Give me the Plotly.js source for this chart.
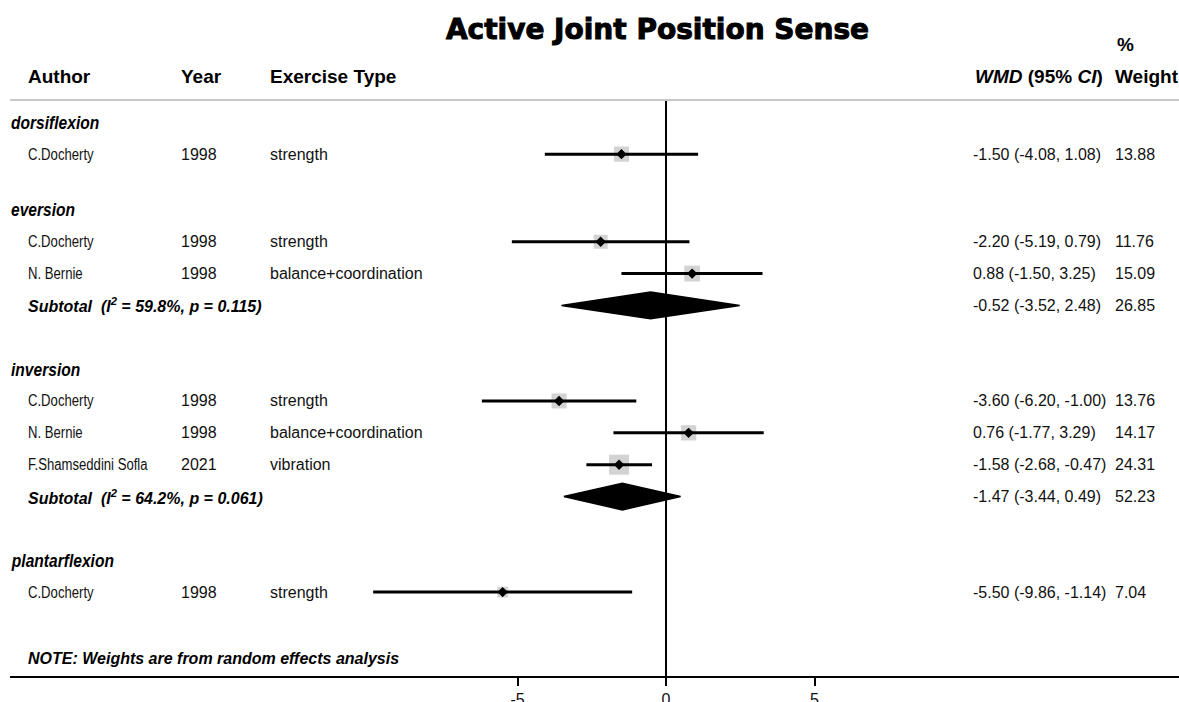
<!DOCTYPE html>
<html><head><meta charset="utf-8">
<script src="https://cdn.plot.ly/plotly-3.0.1.min.js"></script>
<style>html,body{margin:0;padding:0;background:#fff}#chart{width:1179px;height:702px}</style>
</head><body><div id="chart"></div>
<script>
// ---------------- data ----------------
const groupNames = ['dorsiflexion', 'eversion', 'inversion', 'plantarflexion'];
const studyGroup = [0, 1, 1, 2, 2, 2, 3];
const studyAuthor = ['C.Docherty', 'C.Docherty', 'N. Bernie', 'C.Docherty', 'N. Bernie', 'F.Shamseddini Sofla', 'C.Docherty'];
const studyYear = ['1998', '1998', '1998', '1998', '1998', '2021', '1998'];
const studyType = ['strength', 'strength', 'balance+coordination', 'strength', 'balance+coordination', 'vibration', 'strength'];
const studyEst = [-1.50, -2.20, 0.88, -3.60, 0.76, -1.58, -5.50];
const studyLo = [-4.08, -5.19, -1.50, -6.20, -1.77, -2.68, -9.86];
const studyHi = [1.08, 0.79, 3.25, -1.00, 3.29, -0.47, -1.14];
const studyWeight = [13.88, 11.76, 15.09, 13.76, 14.17, 24.31, 7.04];
// subgroup pooled estimates (null = single-study subgroup, no subtotal)
const subEst = [null, -0.52, -1.47, null];
const subLo = [null, -3.52, -3.44, null];
const subHi = [null, 2.48, 0.49, null];
const subWeight = [null, 26.85, 52.23, null];
const subI2 = [null, '59.8%', '64.2%', null];
const subP = [null, '0.115', '0.061', null];
const xTickVals = [-5, 0, 5];
const xTickText = ['-5', '0', '5'];
const titleText = 'Active Joint Position Sense';
const noteText = 'NOTE: Weights are from random effects analysis';

// ---------------- geometry / style ----------------
const W = 1179, H = 702, L = 10, R = 0, T = 100, B = 26;
const pxPerUnit = 29.7, zeroPx = 666;
const slotPx = 31.85, slot0Px = 122.3;
const xr = [-(zeroPx - L) / pxPerUnit, (W - R - zeroPx) / pxPerUnit];
const yr = [(H - B - slot0Px) / slotPx, (T - slot0Px) / slotPx];
const pxX = px => (px - L) / (W - L - R);
const pxY = py => (H - B - py) / (H - T - B);
const REG = "'Liberation Sans', Arial, sans-serif";
const TXT = '#111';
const boxScale = 4.06, diamondHalf = 0.42, narrowK = 0.82;

// row positions (slot units)
let cursor = 0;
const headY = [], studyY = [], subY = [];
groupNames.forEach((g, gi) => {
  headY[gi] = cursor; cursor += 1;
  studyGroup.forEach((sg, i) => { if (sg === gi) { studyY[i] = cursor; cursor += 1; } });
  if (subEst[gi] !== null) { subY[gi] = cursor; cursor += 2; }
  else { subY[gi] = null; cursor += 0.75; }
});
const noteY = cursor + 0.35;

const fmt = (e, lo, hi) => e.toFixed(2) + ' (' + lo.toFixed(2) + ', ' + hi.toFixed(2) + ')';

// ---------------- traces ----------------
const traces = [];
traces.push({
  type: 'scatter', mode: 'markers', x: studyEst, y: studyY,
  marker: { symbol: 'square', color: '#c0c0c0', size: studyWeight.map(w => boxScale * Math.sqrt(w)), line: { width: 0 } },
  hoverinfo: 'skip'
});
const ciX = [], ciY = [];
studyLo.forEach((lo, i) => { ciX.push(lo, studyHi[i], null); ciY.push(studyY[i], studyY[i], null); });
traces.push({ type: 'scatter', mode: 'lines', x: ciX, y: ciY, line: { color: '#000', width: 3 }, hoverinfo: 'skip' });
traces.push({
  type: 'scatter', mode: 'markers', x: studyEst, y: studyY,
  marker: { symbol: 'diamond', color: '#000', size: 8, line: { width: 0 } }, hoverinfo: 'skip'
});
groupNames.forEach((g, gi) => {
  if (subEst[gi] === null) return;
  const y = subY[gi];
  traces.push({
    type: 'scatter', mode: 'lines', fill: 'toself', fillcolor: '#000',
    x: [subLo[gi], subEst[gi], subHi[gi], subEst[gi], subLo[gi]],
    y: [y, y - diamondHalf, y, y + diamondHalf, y],
    line: { color: '#000', width: 1.5 }, hoverinfo: 'skip'
  });
});

// ---------------- annotations ----------------
const ann = [];
const narrowIdx = [];
const add = (text, x, y, yref, font, narrow) => {
  if (narrow) narrowIdx.push(ann.length);
  ann.push({
    text, x, y, xref: 'paper', yref, xanchor: 'left', yanchor: 'middle',
    showarrow: false, font: Object.assign({ color: TXT }, font)
  });
};
const hFont = { family: REG, size: 19, color: '#000' };
add('<b>Author</b>', pxX(26), pxY(77), 'paper', hFont);
add('<b>Year</b>', pxX(179), pxY(77), 'paper', hFont);
add('<b>Exercise Type</b>', pxX(268), pxY(77), 'paper', hFont);
add('<b><i>WMD</i> (95% <i>CI</i>)</b>', pxX(973), pxY(77), 'paper', hFont);
add('<b>%</b>', pxX(1115), pxY(45), 'paper', hFont);
add('<b>Weight</b>', pxX(1113), pxY(77), 'paper', hFont);
groupNames.forEach((g, gi) => add('<b><i>' + g + '</i></b>', pxX(9), headY[gi], 'y', { family: REG, size: 19, color: '#000' }, true));
studyAuthor.forEach((a, i) => {
  add(a, pxX(26), studyY[i], 'y', { family: REG, size: 16 }, true);
  add(studyYear[i], pxX(179), studyY[i], 'y', { family: REG, size: 16 });
  add(studyType[i], pxX(268), studyY[i], 'y', { family: REG, size: 16 });
  add(fmt(studyEst[i], studyLo[i], studyHi[i]), pxX(971), studyY[i], 'y', { family: REG, size: 16 });
  add(studyWeight[i].toFixed(2), pxX(1113), studyY[i], 'y', { family: REG, size: 16 });
});
groupNames.forEach((g, gi) => {
  if (subEst[gi] === null) return;
  add('<b><i>Subtotal  (I<sup>2</sup> = ' + subI2[gi] + ', p = ' + subP[gi] + ')</i></b>', pxX(26), subY[gi], 'y', { family: REG, size: 16, color: '#000' });
  add(fmt(subEst[gi], subLo[gi], subHi[gi]), pxX(971), subY[gi], 'y', { family: REG, size: 16 });
  add(subWeight[gi].toFixed(2), pxX(1113), subY[gi], 'y', { family: REG, size: 16 });
});
add('<b><i>' + noteText + '</i></b>', pxX(26), noteY, 'y', { family: REG, size: 16, color: '#000' });

// ---------------- layout ----------------
const layout = {
  width: W, height: H,
  margin: { l: L, r: R, t: T, b: B, pad: 0 },
  paper_bgcolor: '#fff', plot_bgcolor: '#fff',
  showlegend: false, hovermode: false,
  title: {
    text: '<b>' + titleText + '</b>', x: 657.5 / W, xanchor: 'center', xref: 'container',
    y: 1 - 29 / H, yanchor: 'middle', yref: 'container',
    font: { family: "'DejaVu Sans', sans-serif", size: 28, color: '#000' }
  },
  xaxis: {
    range: xr, showgrid: false, zeroline: false, showline: true, linecolor: '#000', linewidth: 2,
    ticks: 'outside', ticklen: 8, tickwidth: 2, tickcolor: '#000',
    tickmode: 'array', tickvals: xTickVals, ticktext: xTickText,
    tickfont: { family: REG, size: 16, color: TXT }, fixedrange: true
  },
  yaxis: { range: yr, visible: false, showgrid: false, zeroline: false, fixedrange: true },
  shapes: [
    { type: 'line', xref: 'paper', yref: 'paper', x0: 0, x1: 1, y0: 1, y1: 1, line: { color: '#c8c8c8', width: 2 } },
    { type: 'line', xref: 'x', yref: 'paper', x0: 0, x1: 0, y0: 0, y1: 1, line: { color: '#000', width: 2 }, layer: 'below' }
  ],
  annotations: ann
};

Plotly.newPlot('chart', traces, layout, { staticPlot: true, displayModeBar: false }).then(gd => {
  // condense the author / subgroup-heading texts horizontally (narrow face look)
  narrowIdx.forEach(i => {
    const t = gd.querySelector('.annotation[data-index="' + i + '"] text');
    if (!t) return;
    const bb = t.getBBox();
    const prev = t.getAttribute('transform') || '';
    t.setAttribute('transform', prev + ' translate(' + bb.x + ',0) scale(' + narrowK + ',1) translate(' + (-bb.x) + ',0)');
  });
  // heavier title (black-weight look)
  const tt = gd.querySelector('.gtitle');
  if (tt) { tt.style.stroke = '#000'; tt.style.strokeWidth = '1px'; }
});
</script>
</body></html>
